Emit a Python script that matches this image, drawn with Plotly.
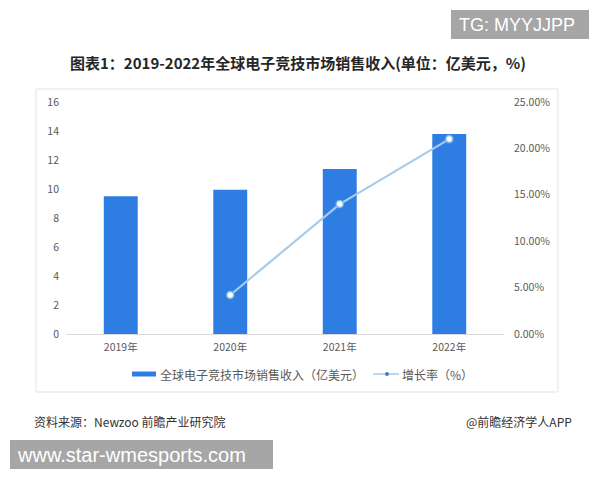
import plotly.graph_objects as go

years = ["2019年", "2020年", "2021年", "2022年"]
revenue = [9.5, 9.94, 11.38, 13.79]          # 亿美元
growth = [None, 0.042, 0.140, 0.210]          # 增长率
left_ticks = [0, 2, 4, 6, 8, 10, 12, 14, 16]
right_ticks = [0, 0.05, 0.10, 0.15, 0.20, 0.25]
right_tick_text = ["0.00%", "5.00%", "10.00%", "15.00%", "20.00%", "25.00%"]

# page body has an 8px margin; the figure is sized/offset to compensate
OFF = 8
W, H = 600 - OFF, 480 - OFF
L, R, T, B = 66 - OFF, 96, 102 - OFF, 146
PW, PH = W - L - R, H - T - B

def px(x):
    return (x - OFF - L) / PW

def py(y):
    return (H - B - (y - OFF)) / PH

CJK = "Noto Sans CJK SC, Noto Sans, sans-serif"
BAR_C = "#2E7DE3"
LINE_C = "#A6CCEC"
TICK_FONT = dict(size=10.5, color="#595959", family=CJK)

fig = go.Figure()
fig.add_trace(go.Bar(
    x=years, y=revenue, marker=dict(color=BAR_C, line=dict(width=0)),
    name="全球电子竞技市场销售收入（亿美元）", yaxis="y", showlegend=False,
))
fig.add_trace(go.Scatter(
    x=years, y=growth, mode="lines+markers", yaxis="y2",
    line=dict(color=LINE_C, width=2.2),
    marker=dict(symbol="circle", size=7, color="white", line=dict(color="#7DB9EA", width=1.5)),
    name="增长率（%）", showlegend=False,
))

fig.update_layout(
    width=W, height=H,
    margin=dict(l=L, r=R, t=T, b=B, pad=0),
    paper_bgcolor="white", plot_bgcolor="white",
    bargap=0.69,
    font=dict(family=CJK, size=11, color="#595959"),
    xaxis=dict(showgrid=False, zeroline=False, showline=True, linecolor="#D9D9D9", linewidth=1,
               ticks="", tickfont=TICK_FONT, ticklabelstandoff=3),
    yaxis=dict(range=[0, 16], tickvals=left_ticks, showgrid=False, zeroline=False, showline=False,
               ticks="", tickfont=TICK_FONT, ticklabelstandoff=6),
    yaxis2=dict(range=[0, 0.25], tickvals=right_ticks, ticktext=right_tick_text, overlaying="y",
                side="right", showgrid=False, zeroline=False, showline=False, ticks="",
                tickfont=TICK_FONT, ticklabelstandoff=9),
    showlegend=False,
)

shapes = []
annotations = []

# chart frame
shapes.append(dict(type="rect", xref="paper", yref="paper", x0=px(36), x1=px(558), y0=py(392), y1=py(89),
                   line=dict(color="#E3E3E3", width=1), fillcolor="rgba(0,0,0,0)", layer="below"))

# faint watermarks
for (wx, wy) in [(230, 130), (380, 265), (55, 200)]:
    annotations.append(dict(xref="paper", yref="paper", x=px(wx), y=py(wy), text="前瞻产业研究院",
                            showarrow=False, textangle=-30, font=dict(size=22, color="rgba(0,0,0,0.025)", family=CJK)))

# title
annotations.append(dict(xref="paper", yref="paper", x=px(298), y=py(62), xanchor="center", yanchor="middle",
                        text="<b>图表1：2019-2022年全球电子竞技市场销售收入(单位：亿美元，%)</b>",
                        showarrow=False, font=dict(size=15, color="#262626", family=CJK)))

# custom legend
shapes.append(dict(type="rect", xref="paper", yref="paper", x0=px(132), x1=px(156), y0=py(376.5), y1=py(371.5),
                   fillcolor=BAR_C, line=dict(width=0)))
annotations.append(dict(xref="paper", yref="paper", x=px(158), y=py(374), xanchor="left", yanchor="middle",
                        text="全球电子竞技市场销售收入（亿美元）", showarrow=False,
                        font=dict(size=12, color="#595959", family=CJK)))
shapes.append(dict(type="line", xref="paper", yref="paper", x0=px(373), x1=px(399), y0=py(374), y1=py(374),
                   line=dict(color=LINE_C, width=1.5)))
shapes.append(dict(type="circle", xref="paper", yref="paper", x0=px(385), x1=px(389), y0=py(376), y1=py(372),
                   fillcolor="#4A7CC4", line=dict(width=0)))
annotations.append(dict(xref="paper", yref="paper", x=px(400), y=py(374), xanchor="left", yanchor="middle",
                        text="增长率（%）", showarrow=False, font=dict(size=12, color="#595959", family=CJK)))

# sources
annotations.append(dict(xref="paper", yref="paper", x=px(32), y=py(421), xanchor="left", yanchor="middle",
                        text="资料来源：Newzoo 前瞻产业研究院", showarrow=False,
                        font=dict(size=12, color="#333333", family=CJK)))
annotations.append(dict(xref="paper", yref="paper", x=px(574), y=py(421), xanchor="right", yanchor="middle",
                        text="@前瞻经济学人APP", showarrow=False,
                        font=dict(size=12, color="#333333", family=CJK)))

# overlay boxes
shapes.append(dict(type="rect", xref="paper", yref="paper", x0=px(451), x1=px(589), y0=py(39), y1=py(10),
                   fillcolor="#A6A6A6", line=dict(width=0)))
annotations.append(dict(xref="paper", yref="paper", x=px(457), y=py(25), xanchor="left", yanchor="middle",
                        text="TG: MYYJJPP", showarrow=False,
                        font=dict(size=18, color="white", family="Liberation Sans, Arial, sans-serif")))
shapes.append(dict(type="rect", xref="paper", yref="paper", x0=px(10), x1=px(273), y0=py(469), y1=py(440),
                   fillcolor="#A6A6A6", line=dict(width=0)))
annotations.append(dict(xref="paper", yref="paper", x=px(15), y=py(454.5), xanchor="left", yanchor="middle",
                        text="www.star-wmesports.com", showarrow=False,
                        font=dict(size=20, color="white", family="Liberation Sans, Arial, sans-serif")))

fig.update_layout(shapes=shapes, annotations=annotations)
fig.write_html("out.html")
